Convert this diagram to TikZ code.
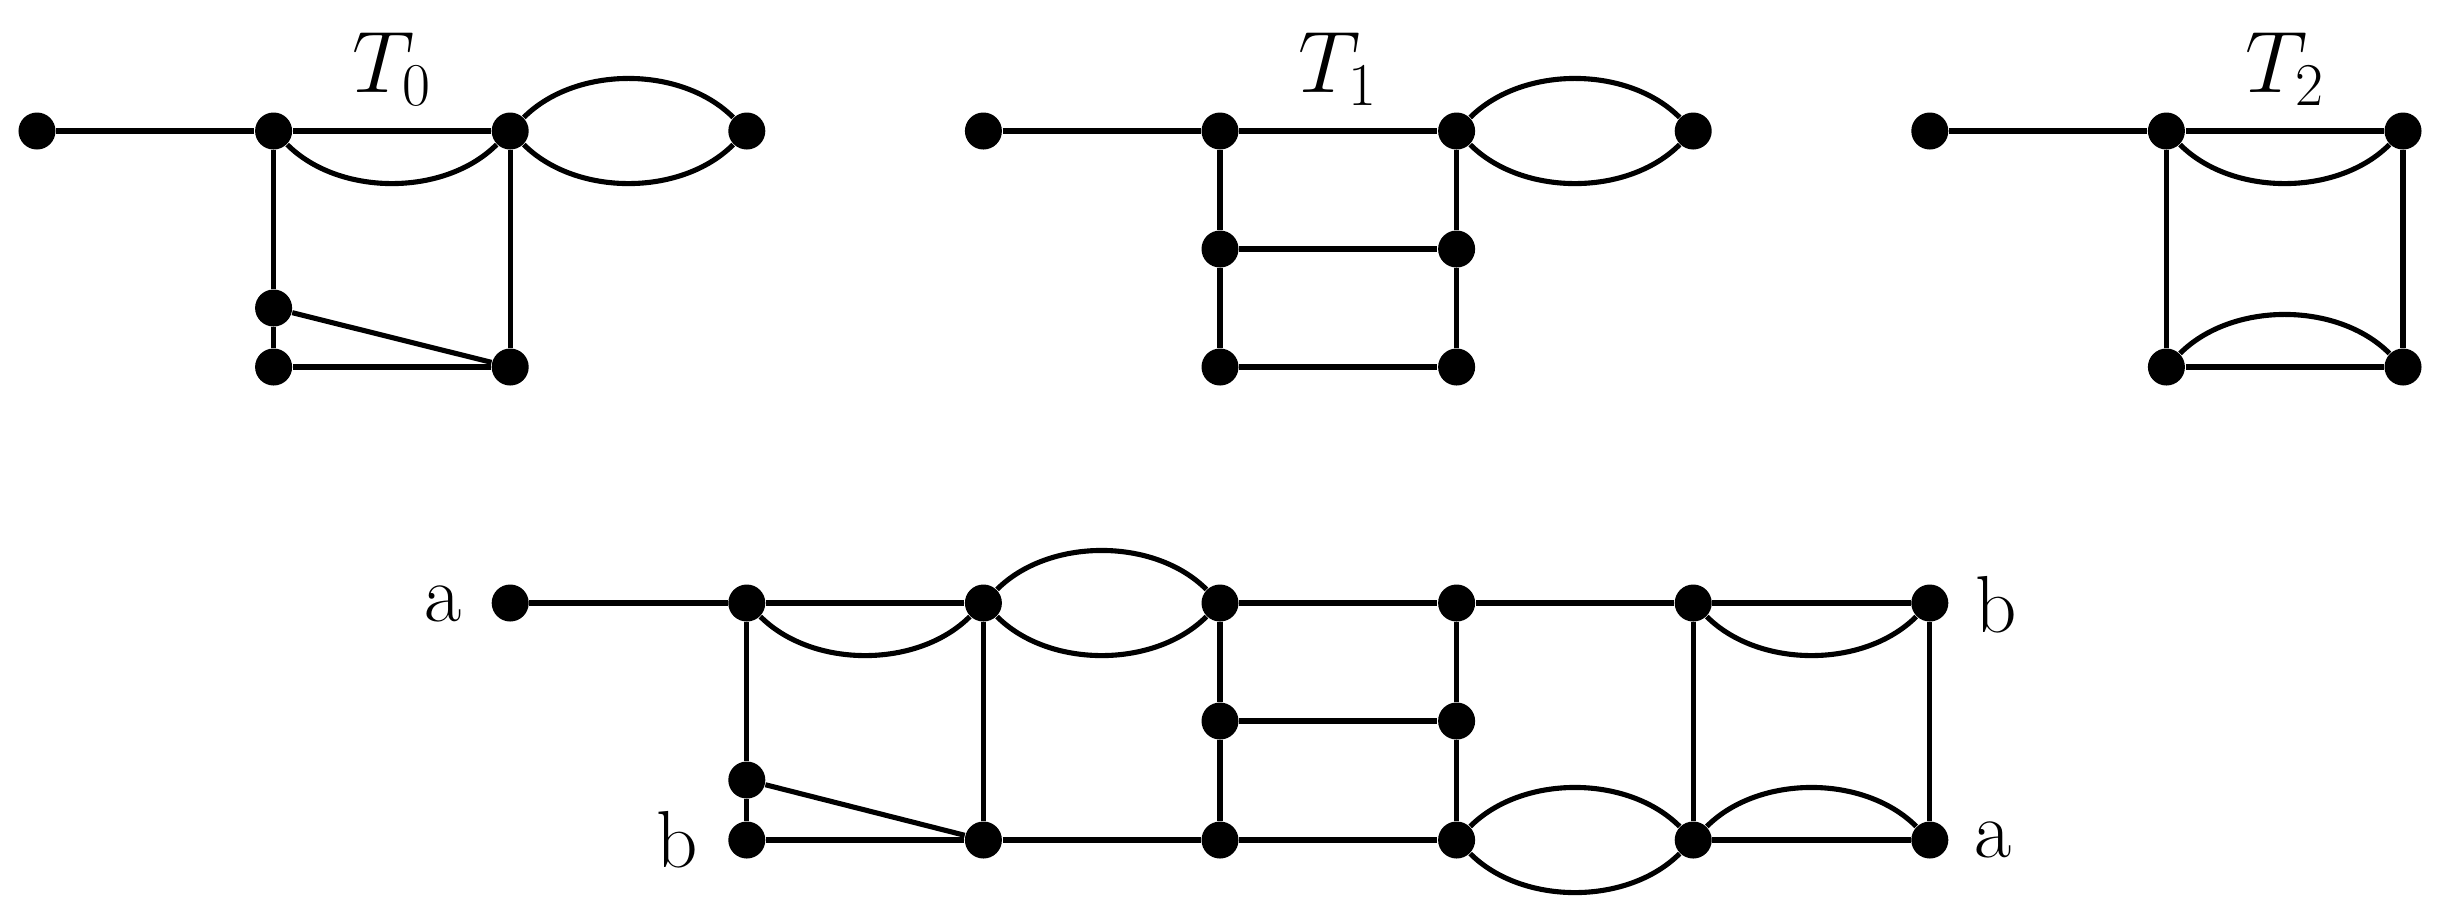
\documentclass[tikz,border=0pt]{standalone}
\begin{document}
\begin{tikzpicture}[x=0.01cm,y=-0.01cm,
  v/.style={circle,fill=black,inner sep=0pt,minimum size=0.37cm},
  e/.style={line width=1.45pt},
  arcd/.style={line width=1.45pt,out=-45,in=-135,looseness=0.9},
  arcu/.style={line width=1.45pt,out=45,in=135,looseness=0.9},
  lbl/.style={inner sep=0pt,font=\fontsize{23}{27}\selectfont}]
\useasboundingbox (0,0) rectangle (2445,911);
% ---------- T0 ----------
\node[v] (a0) at (37,131) {};
\node[v] (a1) at (273.6,131) {};
\node[v] (a2) at (510.2,131) {};
\node[v] (a3) at (746.8,131) {};
\node[v] (a4) at (273.6,308) {};
\node[v] (a5) at (273.6,367) {};
\node[v] (a6) at (510.2,367) {};
\node[lbl,anchor=base] (t0) at (392,92) {$T_0$};
\draw[e] (a0) -- (a1) -- (a2);
\draw[arcd] (a1) to (a2);
\draw[arcu] (a2) to (a3);
\draw[arcd] (a2) to (a3);
\draw[e] (a1) -- (a4) -- (a5) -- (a6) -- (a2);
\draw[e] (a4) -- (a6);
% ---------- T1 ----------
\node[v] (b0) at (983.4,131) {};
\node[v] (b1) at (1220,131) {};
\node[v] (b2) at (1456.6,131) {};
\node[v] (b3) at (1693.2,131) {};
\node[v] (b4) at (1220,249) {};
\node[v] (b5) at (1456.6,249) {};
\node[v] (b6) at (1220,367) {};
\node[v] (b7) at (1456.6,367) {};
\node[lbl,anchor=base] (t1) at (1338,92) {$T_1$};
\draw[e] (b0) -- (b1) -- (b2);
\draw[arcu] (b2) to (b3);
\draw[arcd] (b2) to (b3);
\draw[e] (b1) -- (b4) -- (b6) -- (b7) -- (b5) -- (b2);
\draw[e] (b4) -- (b5);
% ---------- T2 ----------
\node[v] (c0) at (1929.8,131) {};
\node[v] (c1) at (2166.4,131) {};
\node[v] (c2) at (2403,131) {};
\node[v] (c3) at (2166.4,367) {};
\node[v] (c4) at (2403,367) {};
\node[lbl,anchor=base] (t2) at (2285,92) {$T_2$};
\draw[e] (c0) -- (c1) -- (c2);
\draw[arcd] (c1) to (c2);
\draw[e] (c1) -- (c3) -- (c4) -- (c2);
\draw[arcu] (c3) to (c4);
% ---------- combined ----------
\node[v] (d2) at (510.2,603) {};
\node[v] (d3) at (746.8,603) {};
\node[v] (d4) at (983.4,603) {};
\node[v] (d5) at (1220,603) {};
\node[v] (d6) at (1456.6,603) {};
\node[v] (d7) at (1693.2,603) {};
\node[v] (d8) at (1929.8,603) {};
\node[v] (m3) at (746.8,780) {};
\node[v] (m5) at (1220,721) {};
\node[v] (m6) at (1456.6,721) {};
\node[v] (f3) at (746.8,840) {};
\node[v] (f4) at (983.4,840) {};
\node[v] (f5) at (1220,840) {};
\node[v] (f6) at (1456.6,840) {};
\node[v] (f7) at (1693.2,840) {};
\node[v] (f8) at (1929.8,840) {};
\node[lbl] (la1) at (443,604) {a};
\node[lbl] (lb1) at (677,840) {b};
\node[lbl] (lb2) at (1996,605) {b};
\node[lbl] (la2) at (1993,840) {a};
\draw[e] (d2) -- (d3) -- (d4);
\draw[arcd] (d3) to (d4);
\draw[arcu] (d4) to (d5);
\draw[arcd] (d4) to (d5);
\draw[e] (d5) -- (d6) -- (d7) -- (d8);
\draw[arcd] (d7) to (d8);
\draw[e] (d3) -- (m3) -- (f3) -- (f4) -- (f5) -- (f6);
\draw[e] (m3) -- (f4);
\draw[e] (d4) -- (f4);
\draw[e] (d5) -- (m5) -- (f5);
\draw[e] (d6) -- (m6) -- (f6);
\draw[e] (m5) -- (m6);
\draw[arcu] (f6) to (f7);
\draw[arcd] (f6) to (f7);
\draw[e] (f7) -- (f8);
\draw[arcu] (f7) to (f8);
\draw[e] (d7) -- (f7);
\draw[e] (d8) -- (f8);
\end{tikzpicture}
\end{document}
